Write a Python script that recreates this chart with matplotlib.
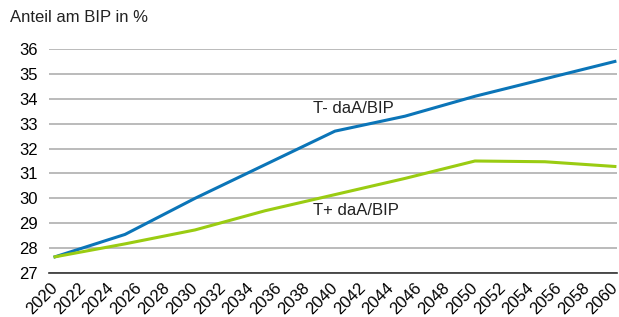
import numpy as np
import matplotlib
matplotlib.use("Agg")
import matplotlib.pyplot as plt

plt.rcParams['font.family'] = ['Liberation Sans', 'DejaVu Sans']

years = [2020, 2025, 2030, 2035, 2040, 2045, 2050, 2055, 2060]
t_minus = [27.65, 28.55, 30.0, 31.35, 32.7, 33.3, 34.1, 34.8, 35.5]
t_plus = [27.65, 28.17, 28.73, 29.5, 30.15, 30.8, 31.5, 31.47, 31.28]
tick_years = list(range(2020, 2061, 2))

fig = plt.figure(figsize=(6.19, 3.17), dpi=100)
ax = fig.add_axes([49 / 619, 1 - 273 / 317, (617 - 49) / 619, (273 - 49) / 317])

ax.plot(years, t_minus, color='#0b75b8', lw=2.2)
ax.plot(years, t_plus, color='#9acc12', lw=2.2)

ax.set_ylim(27, 36)
ax.set_xlim(2019.57, 2060.15)
ax.set_yticks(range(27, 37))
ax.grid(axis='y', color='#a8a8a8', lw=1.1)
ax.set_axisbelow(True)
for s in ['top', 'right', 'left']:
    ax.spines[s].set_visible(False)
ax.spines['bottom'].set_color('#333333')
ax.spines['bottom'].set_linewidth(1.2)

ax.set_xticks(tick_years)
ax.set_xticklabels([str(y) for y in tick_years], rotation=45, ha='right', va='center',
                   rotation_mode='anchor', fontsize=12)
ax.tick_params(axis='x', length=0, pad=9)
ax.tick_params(axis='y', length=0, labelsize=12, pad=8)

ax.text(2038.4, 33.62, "T- daA/BIP", fontsize=12, va='center', color='#222222')
ax.text(2038.4, 29.5, "T+ daA/BIP", fontsize=12, va='center', color='#222222')

fig.text(10 / 619, 1 - 17 / 317, "Anteil am BIP in %", fontsize=12, va='center', color='#222222')

fig.savefig("out.png", dpi=100)
